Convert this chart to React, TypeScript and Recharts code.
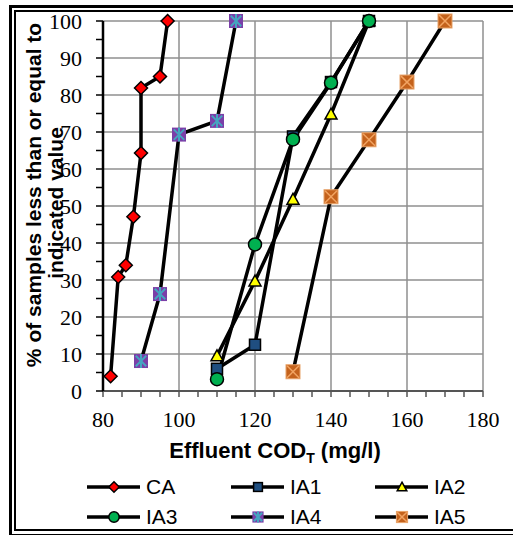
import React from 'react';
import { LineChart, Line, XAxis, YAxis, CartesianGrid, Legend, Label } from 'recharts';

// ---- data ----
const caX = [82, 84, 86, 88, 90, 90, 95, 97];
const caY = [4, 30.8, 34, 47.1, 64.3, 81.9, 85, 100];
const ia1X = [110, 120, 130, 140, 150];
const ia1Y = [6, 12.5, 68.8, 83.5, 100];
const ia2X = [110, 120, 130, 140, 150];
const ia2Y = [9.5, 29.7, 51.8, 74.8, 100];
const ia3X = [110, 120, 130, 140, 150];
const ia3Y = [3.2, 39.6, 68, 83.3, 100];
const ia4X = [90, 95, 100, 110, 115];
const ia4Y = [8.1, 26.2, 69.3, 73, 100];
const ia5X = [130, 140, 150, 160, 170];
const ia5Y = [5.2, 52.5, 67.9, 83.5, 100];

const seriesNames = ['CA', 'IA1', 'IA2', 'IA3', 'IA4', 'IA5'];
const xTicks = [80, 85, 90, 95, 100, 105, 110, 115, 120, 125, 130, 135, 140, 145, 150, 155, 160, 165, 170, 175, 180];
const xGrid = [80, 100, 120, 140, 160, 180];
const yTicks = [0, 5, 10, 15, 20, 25, 30, 35, 40, 45, 50, 55, 60, 65, 70, 75, 80, 85, 90, 95, 100];
const yGrid = [0, 10, 20, 30, 40, 50, 60, 70, 80, 90, 100];
const xTitle = 'Effluent COD';
const xTitleSub = 'T';
const xTitleUnit = ' (mg/l)';
const yTitle1 = '% of samples less than or equal to';
const yTitle2 = 'indicated value';

const zip = (xs: number[], ys: number[]) => xs.map((x, i) => ({ x, y: ys[i] }));

const SERIES = [
  { name: seriesNames[0], kind: 'diamond', data: zip(caX, caY) },
  { name: seriesNames[1], kind: 'square', data: zip(ia1X, ia1Y) },
  { name: seriesNames[2], kind: 'triangle', data: zip(ia2X, ia2Y) },
  { name: seriesNames[3], kind: 'circle', data: zip(ia3X, ia3Y) },
  { name: seriesNames[4], kind: 'star', data: zip(ia4X, ia4Y) },
  { name: seriesNames[5], kind: 'xsquare', data: zip(ia5X, ia5Y) },
];

const SANS = '"Liberation Sans", Arial, sans-serif';
const SERIF = '"Liberation Serif", "Times New Roman", serif';

function Marker({ kind, cx, cy, s = 1 }: { kind: string; cx: number; cy: number; s?: number }) {
  if (cx == null || cy == null) return null;
  if (kind === 'diamond') {
    const h = 6.5 * s;
    return (
      <polygon
        points={`${cx},${cy - h} ${cx + h},${cy} ${cx},${cy + h} ${cx - h},${cy}`}
        fill="#FF0000"
        stroke="#000"
        strokeWidth={1.5}
      />
    );
  }
  if (kind === 'square') {
    const h = 5.5 * s;
    return <rect x={cx - h} y={cy - h} width={2 * h} height={2 * h} fill="#1F4E80" stroke="#000" strokeWidth={1.5} />;
  }
  if (kind === 'triangle') {
    const h = 6 * s;
    return (
      <polygon
        points={`${cx},${cy - h} ${cx + h},${cy + h * 0.8} ${cx - h},${cy + h * 0.8}`}
        fill="#FFFF00"
        stroke="#000"
        strokeWidth={1.5}
      />
    );
  }
  if (kind === 'circle') {
    return <circle cx={cx} cy={cy} r={6.5 * s} fill="#00B050" stroke="#000" strokeWidth={1.5} />;
  }
  if (kind === 'star') {
    const h = 7 * s;
    const k = h * 0.75;
    return (
      <g>
        <rect x={cx - h} y={cy - h} width={2 * h} height={2 * h} fill="#7B3FA8" />
        <line x1={cx - k} y1={cy - k} x2={cx + k} y2={cy + k} stroke="#45A5C0" strokeWidth={2} />
        <line x1={cx - k} y1={cy + k} x2={cx + k} y2={cy - k} stroke="#45A5C0" strokeWidth={2} />
        <line x1={cx} y1={cy - h} x2={cx} y2={cy + h} stroke="#45A5C0" strokeWidth={2} />
      </g>
    );
  }
  if (kind === 'xsquare') {
    const h = 7 * s;
    const k = h * 0.85;
    return (
      <g>
        <rect x={cx - h} y={cy - h} width={2 * h} height={2 * h} fill="#C4621C" stroke="#E8A46A" strokeWidth={1} />
        <line x1={cx - k} y1={cy - k} x2={cx + k} y2={cy + k} stroke="#F2A462" strokeWidth={1.5} />
        <line x1={cx - k} y1={cy + k} x2={cx + k} y2={cy - k} stroke="#F2A462" strokeWidth={1.5} />
      </g>
    );
  }
  return null;
}

const makeDot = (kind: string) => (props: any) => {
  const { cx, cy, index } = props;
  return <Marker key={`${kind}-${index}`} kind={kind} cx={cx} cy={cy} />;
};

const XTick = (props: any) => {
  const { x, y, payload } = props;
  const v = payload.value;
  if (v % 20 !== 0) return <g />;
  return (
    <text x={x} y={y + 15} textAnchor="middle" fontFamily={SERIF} fontSize={22} fill="#000">
      {v}
    </text>
  );
};

const YTick = (props: any) => {
  const { x, y, payload } = props;
  const v = payload.value;
  if (v % 10 !== 0) return <g />;
  return (
    <text x={x} y={y + 7.5} textAnchor="end" fontFamily={SERIF} fontSize={22} fill="#000">
      {v}
    </text>
  );
};

const legendCols = [87, 231, 375];
const legendRows = [17, 47];

const renderLegend = () => (
  <div style={{ position: 'relative', width: 513, height: 64 }}>
    {SERIES.map((s, i) => {
      const left = legendCols[i % 3];
      const top = legendRows[Math.floor(i / 3)];
      return (
        <div key={s.name} style={{ position: 'absolute', left, top: top - 12, height: 24, display: 'flex', alignItems: 'center' }}>
          <svg width={54} height={24} style={{ display: 'block' }}>
            <line x1={0} y1={12} x2={53} y2={12} stroke="#000" strokeWidth={3.5} />
            <Marker kind={s.kind} cx={27} cy={12} s={0.8} />
          </svg>
          <span style={{ marginLeft: 5, fontFamily: SANS, fontSize: 21, color: '#000', lineHeight: '24px' }}>{s.name}</span>
        </div>
      );
    })}
  </div>
);

const YTitle = () => (
  <g fontFamily={SANS} fontWeight="bold" fontSize={21} fill="#000">
    <text x={41} y={195} textAnchor="middle" transform="rotate(-90 41 195)">
      {yTitle1}
    </text>
    <text x={63} y={203} textAnchor="middle" transform="rotate(-90 63 203)">
      {yTitle2}
    </text>
  </g>
);

const XTitle = () => (
  <text x={275} y={458} textAnchor="middle" fontFamily={SANS} fontWeight="bold" fontSize={22} fill="#000">
    {xTitle}
    <tspan dy={5} fontSize={14}>
      {xTitleSub}
    </tspan>
    <tspan dy={-5}>{xTitleUnit}</tspan>
  </text>
);

export default function App() {
  return (
    <div style={{ position: 'absolute', left: 0, top: 0, width: 513, height: 535, overflow: 'hidden', background: '#fff' }}>
      {/* double frame */}
      <div style={{ position: 'absolute', left: 9, top: 5, width: 600, height: 526, borderLeft: '3px solid #000', borderTop: '3px solid #000', borderBottom: '3px solid #000' }} />
      <div style={{ position: 'absolute', left: 14, top: 10, width: 600, height: 517, borderLeft: '2px solid #000', borderTop: '2px solid #000', borderBottom: '2px solid #000' }} />
      <div style={{ position: 'absolute', left: 0, top: 0 }}>
        <LineChart width={513} height={535} margin={{ top: 21, right: 30, bottom: 0, left: 0 }}>
          <CartesianGrid stroke="#8f8f8f" strokeWidth={1.5} horizontalValues={yGrid} verticalValues={xGrid} />
          <XAxis
            type="number"
            dataKey="x"
            domain={[80, 180]}
            ticks={xTicks}
            interval={0}
            allowDataOverflow
            height={144}
            tickSize={6}
            tickMargin={15}
            axisLine={{ stroke: '#555', strokeWidth: 2 }}
            tickLine={{ stroke: '#555', strokeWidth: 1.5 }}
            tick={<XTick />}
          >
            <Label content={() => <XTitle />} />
          </XAxis>
          <YAxis
            type="number"
            domain={[0, 100]}
            ticks={yTicks}
            interval={0}
            width={103}
            tickSize={7}
            tickMargin={14}
            axisLine={{ stroke: '#000', strokeWidth: 2.5 }}
            tickLine={{ stroke: '#000', strokeWidth: 1.5 }}
            tick={<YTick />}
          >
            <Label content={() => <YTitle />} />
          </YAxis>
          {SERIES.map((s) => (
            <Line
              key={s.name}
              name={s.name}
              data={s.data}
              dataKey="y"
              type="linear"
              stroke="#000"
              strokeWidth={3.5}
              dot={makeDot(s.kind)}
              activeDot={false}
              isAnimationActive={false}
            />
          ))}
          <Legend
            content={renderLegend}
            layout="horizontal"
            verticalAlign="middle"
            align="center"
            wrapperStyle={{ top: 470, left: 0, width: 513, height: 64 }}
          />
        </LineChart>
      </div>
    </div>
  );
}
